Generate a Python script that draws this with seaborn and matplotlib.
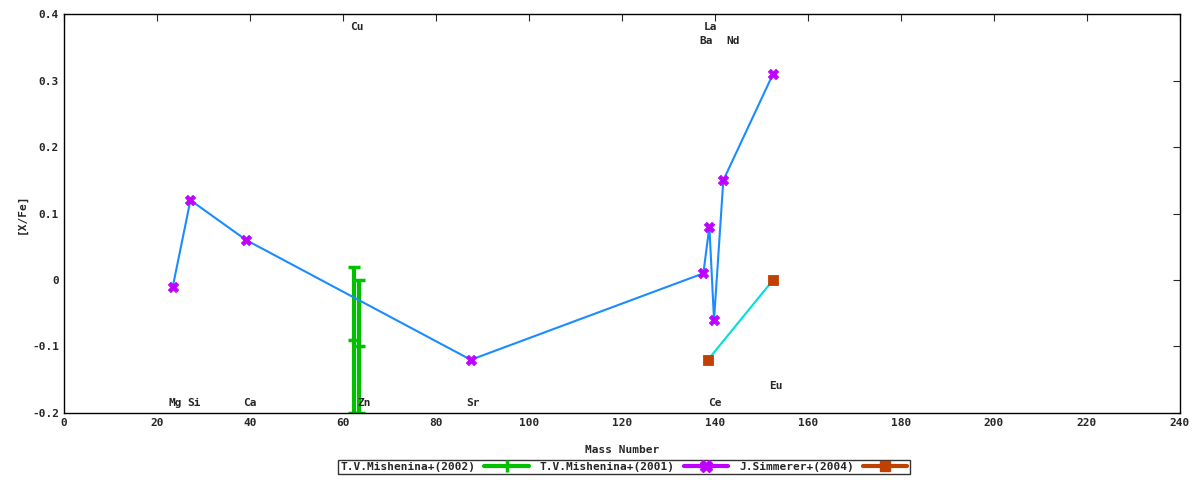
import matplotlib
matplotlib.use("Agg")
import matplotlib.pyplot as plt
import numpy as np
import pandas as pd
import seaborn as sns
from matplotlib.lines import Line2D

# T.V.Mishenina+(2001)
m01_mass = [23.4, 27.2, 39.2, 87.5, 137.5, 138.8, 139.8, 141.8, 152.5]
m01_val = [-0.01, 0.12, 0.06, -0.12, 0.01, 0.08, -0.06, 0.15, 0.31]
# T.V.Mishenina+(2002), Cu / Zn with error bars
m02_mass = [62.3, 63.5]
m02_val = [-0.09, -0.10]
m02_err = [0.11, 0.10]
# J.Simmerer+(2004)
s04_mass = [138.5, 152.5]
s04_val = [-0.12, 0.0]

# element labels: name, x, y
el_names = ["Mg", "Si", "Ca", "Cu", "Zn", "Sr", "La", "Ba", "Nd", "Ce", "Eu"]
el_x = [24, 28, 40, 63, 64.5, 88, 139, 138, 144, 140, 153]
el_y = [-0.185, -0.185, -0.185, 0.38, -0.185, -0.185, 0.38, 0.36, 0.36, -0.185, -0.16]

sns.set_style("white")
plt.rcParams["font.family"] = ["DejaVu Sans Mono"]
plt.rcParams["font.size"] = 8
plt.rcParams["font.weight"] = "bold"

fig = plt.figure(figsize=(12, 4.8), dpi=100)
ax = fig.add_axes([0.0533, 0.1396, 0.93, 0.8312])

green, magenta, brown = "#00c000", "#c000ff", "#c04000"

ax.errorbar(m02_mass, m02_val, yerr=m02_err, fmt="_", color=green, markersize=8,
            markeredgewidth=2.5, ecolor=green, elinewidth=3, capsize=4, capthick=2.5)

df01 = pd.DataFrame({"mass": m01_mass, "val": m01_val})
sns.lineplot(data=df01, x="mass", y="val", ax=ax, color="#1a8cff", lw=1.5, sort=False)
sns.scatterplot(data=df01, x="mass", y="val", ax=ax, color=magenta, marker="X",
                s=55, edgecolor=magenta, zorder=5)

df04 = pd.DataFrame({"mass": s04_mass, "val": s04_val})
sns.lineplot(data=df04, x="mass", y="val", ax=ax, color="#00e0e0", lw=1.5)
sns.scatterplot(data=df04, x="mass", y="val", ax=ax, color=brown, marker="s",
                s=55, edgecolor=brown, zorder=5)

for n, x, y in zip(el_names, el_x, el_y):
    ax.text(x, y, n, ha="center", va="center", fontsize=8, fontweight="bold")

ax.set_xlim(0, 240)
ax.set_ylim(-0.2, 0.4)
ax.set_xticks(np.arange(0, 241, 20))
ax.set_yticks(np.round(np.arange(-0.2, 0.41, 0.1), 1))
ax.set_yticklabels(["-0.2", "-0.1", "0", "0.1", "0.2", "0.3", "0.4"])
ax.tick_params(direction="in", top=True, right=True, length=5, labelsize=8)
for s in ax.spines.values():
    s.set_color("black")
    s.set_linewidth(1)
ax.set_xlabel("Mass Number", fontsize=8, fontweight="bold", labelpad=12)
ax.set_ylabel("[X/Fe]", fontsize=8, fontweight="bold")

handles = [
    Line2D([], [], color=green, lw=3, marker="|", markersize=8, markeredgewidth=2.5),
    Line2D([], [], color=magenta, lw=3, marker="X", markersize=8),
    Line2D([], [], color=brown, lw=3, marker="s", markersize=7),
]
labels = ["T.V.Mishenina+(2002)", "T.V.Mishenina+(2001)", "J.Simmerer+(2004)"]
leg = fig.legend(handles, labels, loc="lower center", bbox_to_anchor=(0.52, 0.0),
                 ncol=3, markerfirst=False, frameon=True, fancybox=False,
                 edgecolor="black", fontsize=8, handlelength=4, columnspacing=1,
                 borderpad=0.2, handletextpad=0.8)
leg.get_frame().set_linewidth(1)

fig.savefig("out.png", dpi=100)
